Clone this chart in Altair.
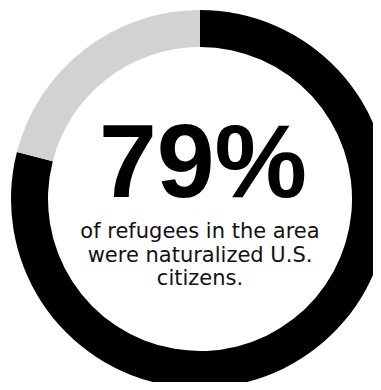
import altair as alt
import pandas as pd

categories = ["Naturalized U.S. citizens", "Not naturalized"]
values = [79, 21]
colors = ["#000000", "#d1d2d4"]
headline = ["79%"]
caption_lines = ["of refugees in the area", "were naturalized U.S.", "citizens."]

df = pd.DataFrame({"category": categories, "value": values, "order": [0, 1]})
head_df = pd.DataFrame({"t": headline})
cap_df = pd.DataFrame({"t": ["\n".join(caption_lines)]})

W, H = 365, 374
CX, CY = 192, 191

arc = alt.Chart(df).mark_arc(outerRadius=189, innerRadius=152).encode(
    x=alt.value(CX),
    y=alt.value(CY),
    theta=alt.Theta("value:Q", stack=True),
    color=alt.Color("category:N", scale=alt.Scale(domain=categories, range=colors), legend=None),
    order=alt.Order("order:Q"),
)

head = alt.Chart(head_df).mark_text(
    font="Liberation Sans", fontSize=104, fontWeight="bold", align="center",
    baseline="alphabetic", color="#000000"
).encode(x=alt.value(CX + 3), y=alt.value(189), text="t:N")

cap = alt.Chart(cap_df).mark_text(
    font="DejaVu Sans", fontSize=21, fontWeight=400, align="center", baseline="alphabetic",
    lineBreak="\n", lineHeight=23.5, color="#111111"
).encode(x=alt.value(CX), y=alt.value(230), text="t:N")

chart = alt.layer(arc, head, cap).properties(
    width=W, height=H, padding=0, autosize=alt.AutoSizeParams(type="none")
).configure(background="#ffffff").configure_view(stroke=None)

chart.save("out.html", embed_options={"renderer": "svg", "actions": False})
